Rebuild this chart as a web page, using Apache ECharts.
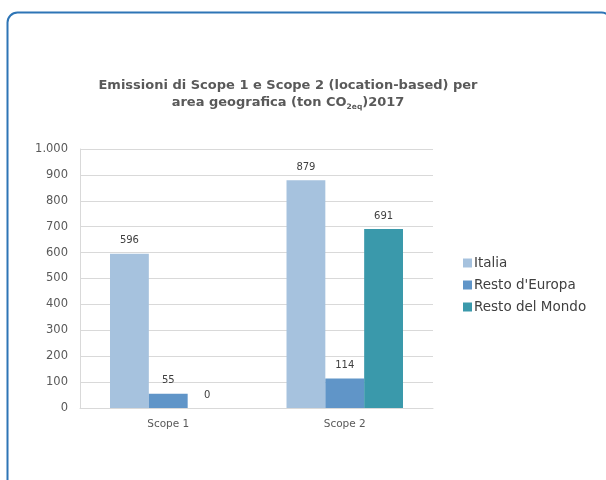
<!DOCTYPE html>
<html><head><meta charset="utf-8">
<script src="https://cdn.jsdelivr.net/npm/echarts@6/dist/echarts.min.js"></script>
<style>html,body{margin:0;padding:0;background:#fff}#c{width:606px;height:480px}</style>
</head><body><div id="c"></div>
<script>
const categories = ['Scope 1', 'Scope 2'];
const seriesNames = ['Italia', "Resto d'Europa", 'Resto del Mondo'];
const italia = [596, 879];
const restoEuropa = [55, 114];
const restoMondo = [0, 691];
const yTicks = [0, 100, 200, 300, 400, 500, 600, 700, 800, 900, 1000];

const colors = ['#a6c2de', '#6095c8', '#3a99ab'];
const values = [italia, restoEuropa, restoMondo];
const chart = echarts.init(document.getElementById('c'), null, {renderer: 'canvas'});
const font = '"DejaVu Sans", Verdana, sans-serif';
chart.setOption({
  animation: false,
  graphic: [{
    type: 'rect', shape: {x: 7.5, y: 12.5, width: 604, height: 520, r: 10},
    style: {fill: 'none', stroke: '#2e75b6', lineWidth: 2}, z: 0
  }],
  title: {
    text: 'Emissioni di Scope 1 e Scope 2 (location-based) per\narea geografica (ton CO{s|2eq}){b|2017}',
    left: 283, textAlign: 'center', top: 72,
    textStyle: {
      fontFamily: font, fontWeight: 'bold', fontSize: 13, color: '#595959', lineHeight: 17,
      rich: {
        s: {fontFamily: font, fontWeight: 'bold', fontSize: 7.5, color: '#595959', verticalAlign: 'bottom', padding: [3, 0, 0, 0]},
        b: {fontFamily: font, fontWeight: 'bold', fontSize: 13, color: '#595959'}
      }
    }
  },
  legend: {
    orient: 'vertical', left: 458, top: 251, itemWidth: 9, itemHeight: 9, itemGap: 8,
    icon: 'rect',
    textStyle: {fontFamily: font, fontSize: 13.5, color: '#404040', padding: [0, 0, 0, -3]},
    data: seriesNames
  },
  grid: {left: 80, right: 173, top: 149, bottom: 72},
  xAxis: {
    type: 'category', data: categories,
    axisLine: {lineStyle: {color: '#d9d9d9'}},
    axisTick: {show: false},
    axisLabel: {fontFamily: font, fontSize: 10.5, color: '#595959', margin: 11}
  },
  yAxis: {
    type: 'value', min: 0, max: 1000, interval: 100,
    axisLine: {show: true, lineStyle: {color: '#d9d9d9'}},
    axisTick: {show: false},
    splitLine: {lineStyle: {color: '#d9d9d9'}},
    axisLabel: {
      fontFamily: font, fontSize: 11.5, color: '#595959', margin: 12,
      formatter: v => yTicks.includes(v) ? (v >= 1000 ? (v/1000) + '.' + String(v%1000).padStart(3,'0') : String(v)) : ''
    }
  },
  series: seriesNames.map((n, i) => ({
    name: n, type: 'bar', data: values[i],
    barGap: 0, barCategoryGap: '34%',
    itemStyle: {color: colors[i]},
    label: {show: true, position: 'top', distance: 8, fontFamily: font, fontSize: 10, color: '#404040'}
  }))
});
</script></body></html>
